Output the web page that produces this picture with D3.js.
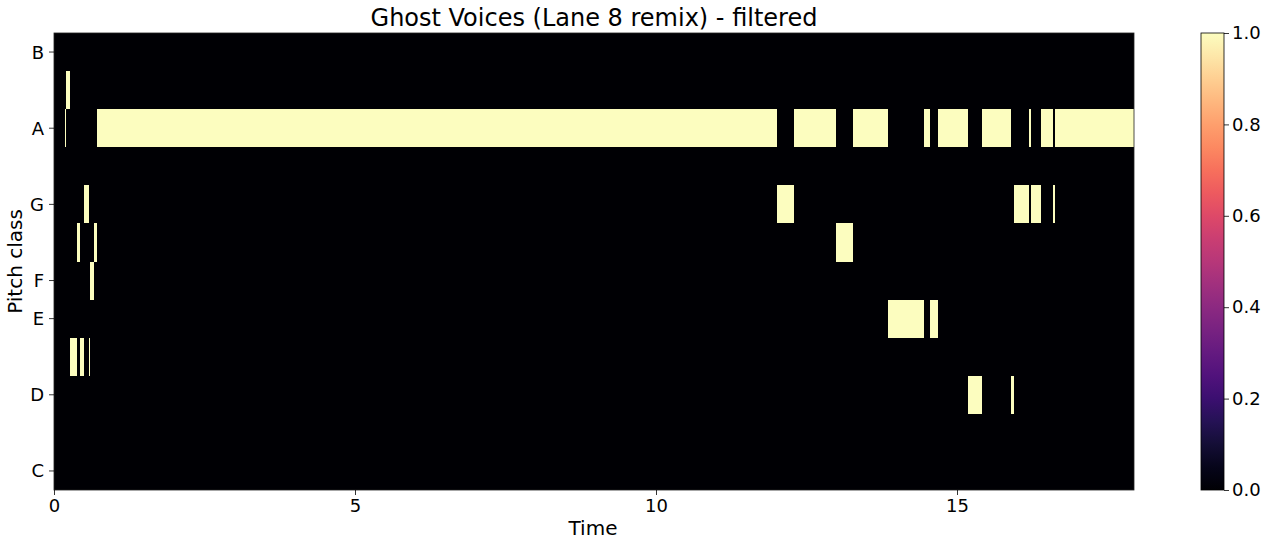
<!DOCTYPE html>
<html><head><meta charset="utf-8">
<script src="https://cdn.jsdelivr.net/npm/d3@7"></script>
<style>body{margin:0;background:#fff;} text{font-family:"DejaVu Sans",sans-serif;fill:#000;}</style>
</head><body>
<svg id="c" width="1270" height="547"></svg>
<script>
const pitchClasses = ["C","C#","D","D#","E","F","F#","G","G#","A","A#","B"];
const yTickLabels = ["C","D","E","F","G","A","B"];
const xTicks = [0,5,10,15];
const cbTicks = [0,0.2,0.4,0.6,0.8,1.0];
const timeMax = 17.94;
// active segments per pitch class [start, end] in seconds (value 1.0), elsewhere 0
const segA = [[0.18,0.2],[0.71,12.01],[12.29,12.99],[13.27,13.85],[14.45,14.55],[14.68,15.18],[15.42,15.9],[16.2,16.23],[16.4,16.6],[16.63,17.94]];
const segAs = [[0.2,0.27]];
const segG = [[0.5,0.58],[12.01,12.29],[15.95,16.2],[16.23,16.4],[16.6,16.63]];
const segFs = [[0.38,0.43],[0.66,0.71],[12.99,13.27]];
const segF = [[0.6,0.66]];
const segE = [[13.85,14.45],[14.55,14.68]];
const segDs = [[0.27,0.38],[0.43,0.5],[0.58,0.6]];
const segD = [[15.18,15.42],[15.9,15.95]];

const segments = [];
[["A",segA],["A#",segAs],["G",segG],["F#",segFs],["F",segF],["E",segE],["D#",segDs],["D",segD]].forEach(([p,arr])=>{
  arr.forEach(([s,e])=>segments.push({pitch:p,start:s,end:e,value:1}));
});

const svg = d3.select("#c");
const L=54,R=1134,T=33,B=490;
const x = d3.scaleLinear().domain([0,timeMax]).range([L,R]);
const y = d3.scaleBand().domain(pitchClasses.slice().reverse()).range([T,B]).paddingInner(0).paddingOuter(0);
const color = v => d3.interpolateMagma(v);

svg.append("rect").attr("x",L).attr("y",T).attr("width",R-L).attr("height",B-T).attr("fill",color(0));
svg.append("g").selectAll("rect").data(segments).join("rect")
  .attr("x",d=>x(d.start)).attr("width",d=>Math.max(0.5,x(d.end)-x(d.start)))
  .attr("y",d=>y(d.pitch)).attr("height",y.bandwidth())
  .attr("fill",d=>color(d.value)).attr("shape-rendering","crispEdges");
svg.append("rect").attr("x",L).attr("y",T).attr("width",R-L).attr("height",B-T).attr("fill","none").attr("stroke","#222").attr("stroke-width",0.8);

const xAxis = svg.append("g").attr("transform",`translate(0,${B})`)
  .call(d3.axisBottom(x).tickValues(xTicks).tickFormat(d3.format("d")).tickSize(5).tickPadding(4));
const yAxis = svg.append("g").attr("transform",`translate(${L},0)`)
  .call(d3.axisLeft(y).tickValues(yTickLabels).tickSize(5).tickPadding(5));
[xAxis,yAxis].forEach(a=>{a.select(".domain").remove();a.selectAll("text").style("font-size","18px").style("font-family","DejaVu Sans");a.selectAll("line").attr("stroke","#000").attr("stroke-width",0.8);});
yAxis.selectAll("text").attr("dy","0.36em");

svg.append("text").attr("x",(L+R)/2).attr("y",26).attr("text-anchor","middle").style("font-size","24px").text("Ghost Voices (Lane 8 remix) - filtered");
svg.append("text").attr("x",(L+R)/2-1).attr("y",535).attr("text-anchor","middle").style("font-size","20px").text("Time");
svg.append("text").attr("transform",`translate(22,${(T+B)/2}) rotate(-90)`).attr("text-anchor","middle").style("font-size","20px").text("Pitch class");

// colorbar
const cbL=1201,cbW=23;
const cy = d3.scaleLinear().domain([0,1]).range([B,T]);
const defs = svg.append("defs");
const grad = defs.append("linearGradient").attr("id","g").attr("x1",0).attr("y1",1).attr("x2",0).attr("y2",0);
d3.range(0,1.0001,0.05).forEach(t=>grad.append("stop").attr("offset",t).attr("stop-color",color(t)));
svg.append("rect").attr("x",cbL).attr("y",T).attr("width",cbW).attr("height",B-T).attr("fill","url(#g)").attr("stroke","#000").attr("stroke-width",0.8);
const cbAxis = svg.append("g").attr("transform",`translate(${cbL+cbW},0)`)
  .call(d3.axisRight(cy).tickValues(cbTicks).tickFormat(d3.format(".1f")).tickSize(5).tickPadding(3));
cbAxis.select(".domain").remove();
cbAxis.selectAll("text").style("font-size","18px").style("font-family","DejaVu Sans");
cbAxis.selectAll("line").attr("stroke","#000").attr("stroke-width",0.8);
</script>
</body></html>
